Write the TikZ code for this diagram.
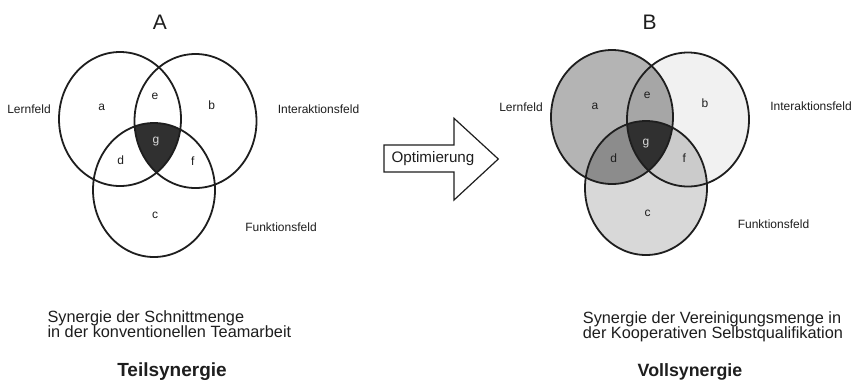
\documentclass[tikz,border=0pt]{standalone}
\usepackage{fontspec}
\setmainfont{Liberation Sans}
\begin{document}
\begin{tikzpicture}[x=1pt,y=-1pt,
  ink/.style={draw=inkc,line width=1.8pt},
  lbl/.style={font=\fontsize{12}{12}\selectfont,text=inkc,inner sep=0pt},
  big/.style={font=\fontsize{21}{21}\selectfont,text=inkc,inner sep=0pt},
  captxt/.style={font=\fontsize{16.3}{15}\selectfont,text=inkc,inner sep=0pt,anchor=base west},
  boldtxt/.style={font=\bfseries\fontsize{19}{19}\selectfont,text=inkc,inner sep=0pt,anchor=base},
]
\definecolor{inkc}{HTML}{1E1E1E}
\definecolor{aF}{HTML}{B4B4B4}
\definecolor{bF}{HTML}{F1F1F1}
\definecolor{cF}{HTML}{D8D8D8}
\definecolor{eF}{HTML}{A6A6A6}
\definecolor{dF}{HTML}{8C8C8C}
\definecolor{fF}{HTML}{CBCBCB}
\definecolor{gF}{HTML}{303030}
\useasboundingbox (0,0) rectangle (860,384);
\fill[white] (0,0) rectangle (860,384);
% ---------- Diagram A ----------
\begin{scope}
  \clip (120,119) ellipse [x radius=61, y radius=67];
  \clip (195.5,121) ellipse [x radius=61, y radius=67];
  \fill[gF] (154,190) ellipse [x radius=61, y radius=67];
\end{scope}
\draw[ink] (120,119) ellipse [x radius=61, y radius=67];
\draw[ink] (195.5,121) ellipse [x radius=61, y radius=67];
\draw[ink] (154,190) ellipse [x radius=61, y radius=67];
\node[big] (tA) at (160,22) {A};
\node[lbl] (lA1) at (29,109) {Lernfeld};
\node[lbl] (lA2) at (318.5,109) {Interaktionsfeld};
\node[lbl] (lA3) at (281,227) {Funktionsfeld};
\node[lbl] (ra) at (101.7,107) {a};
\node[lbl] (re) at (155,96) {e};
\node[lbl] (rb) at (211.7,105) {b};
\node[lbl,text=white!85!black] (rg) at (156,141.7) {g};
\node[lbl] (rd) at (120.7,160) {d};
\node[lbl] (rf) at (192.7,160.7) {f};
\node[lbl] (rc) at (155,215) {c};
\node[captxt] (sA1) at (47.3,322.3) {Synergie der Schnittmenge};
\node[captxt] (sA2) at (47.3,337.3) {in der konventionellen Teamarbeit};
\node[boldtxt] (tsA) at (172,376) {Teilsynergie};
% ---------- Arrow ----------
\draw[draw=inkc,line width=1.2pt,fill=white,line join=miter]
  (384,145) -- (454,145) -- (454,118.3) -- (498.3,159) -- (454,200) -- (454,172) -- (384,172) -- cycle;
\node[font=\fontsize{15.2}{15}\selectfont,text=inkc,inner sep=0pt] (opt) at (433,158.5) {Optimierung};
% ---------- Diagram B ----------
\fill[aF] (612,117) ellipse [x radius=61, y radius=67];
\fill[bF] (688,119.5) ellipse [x radius=61, y radius=67];
\fill[cF] (646,188) ellipse [x radius=61, y radius=67];
\begin{scope}
  \clip (612,117) ellipse [x radius=61, y radius=67];
  \fill[eF] (688,119.5) ellipse [x radius=61, y radius=67];
  \fill[dF] (646,188) ellipse [x radius=61, y radius=67];
\end{scope}
\begin{scope}
  \clip (688,119.5) ellipse [x radius=61, y radius=67];
  \fill[fF] (646,188) ellipse [x radius=61, y radius=67];
\end{scope}
\begin{scope}
  \clip (612,117) ellipse [x radius=61, y radius=67];
  \clip (688,119.5) ellipse [x radius=61, y radius=67];
  \fill[gF] (646,188) ellipse [x radius=61, y radius=67];
\end{scope}
\draw[ink] (612,117) ellipse [x radius=61, y radius=67];
\draw[ink] (688,119.5) ellipse [x radius=61, y radius=67];
\draw[ink] (646,188) ellipse [x radius=61, y radius=67];
\node[big] (tB) at (649.5,22.5) {B};
\node[lbl] (lB1) at (521,107) {Lernfeld};
\node[lbl] (lB2) at (811,106.7) {Interaktionsfeld};
\node[lbl] (lB3) at (773.5,224.7) {Funktionsfeld};
\node[lbl] (sa) at (595,106) {a};
\node[lbl] (se) at (647.3,95) {e};
\node[lbl] (sb) at (705,103.3) {b};
\node[lbl,text=white!85!black] (sg) at (646,143.3) {g};
\node[lbl] (sd) at (613.7,158) {d};
\node[lbl] (sf) at (684.3,158) {f};
\node[lbl] (sc) at (647.7,213.3) {c};
\node[captxt] (sB1) at (582.7,323) {Synergie der Vereinigungsmenge in};
\node[captxt] (sB2) at (582.7,338) {der Kooperativen Selbstqualifikation};
\node[boldtxt,font=\bfseries\fontsize{17.8}{18}\selectfont] (tsB) at (690,376) {Vollsynergie};
\end{tikzpicture}
\end{document}
